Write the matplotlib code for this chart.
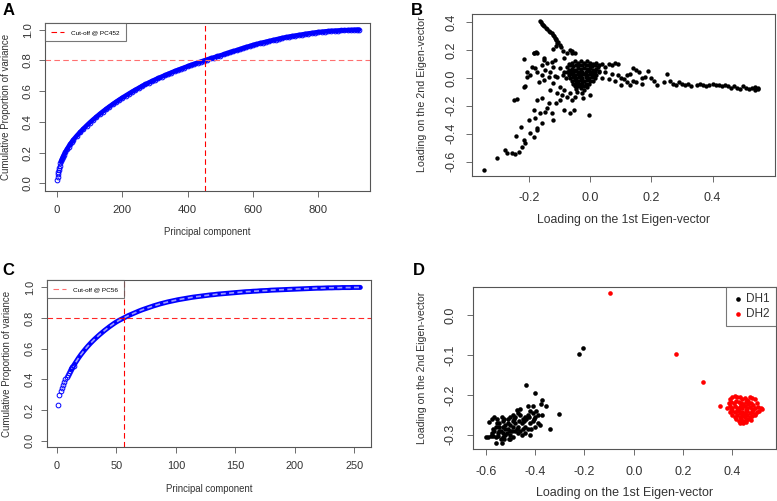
import numpy as np
import matplotlib
matplotlib.use("Agg")
import matplotlib.pyplot as plt
from matplotlib.lines import Line2D

plt.rcParams["font.family"] = ["Liberation Sans", "DejaVu Sans"]

TEXT = "#333333"
FRAME = "#555555"

# panel A: cumulative proportion of variance (925 PCs)
pc_a = [1, 2, 3, 4, 5, 6, 8, 10, 12, 15, 18, 21, 25, 30, 35, 40, 45, 50,
        60, 70, 80, 90, 100, 110, 120, 130, 140, 150, 160, 170, 180, 190, 200,
        210, 220, 230, 240, 250, 260, 270, 280, 290, 300, 310, 320, 330, 340,
        350, 360, 370, 380, 390, 400, 410, 420, 430, 440, 450, 460, 470, 480,
        490, 500, 510, 520, 530, 540, 550, 560, 570, 580, 590, 600, 610, 620,
        630, 640, 650, 660, 670, 680, 690, 700, 710, 720, 730, 740, 750, 760,
        770, 780, 790, 800, 810, 820, 830, 840, 850, 860, 870, 880, 890, 900,
        910, 920, 925]
cum_a = [0.020, 0.045, 0.062, 0.076, 0.088, 0.098, 0.115, 0.130, 0.143, 0.160,
         0.175, 0.188, 0.204, 0.222, 0.240, 0.256, 0.271, 0.285,
         0.310, 0.333, 0.355, 0.376, 0.396, 0.415, 0.433, 0.451, 0.468, 0.484,
         0.500, 0.515, 0.530, 0.544, 0.558, 0.571, 0.584, 0.597, 0.609, 0.621,
         0.633, 0.644, 0.655, 0.665, 0.675, 0.685, 0.694, 0.703, 0.712, 0.721,
         0.730, 0.738, 0.746, 0.754, 0.762, 0.770, 0.777, 0.785, 0.792, 0.799,
         0.806, 0.813, 0.819, 0.826, 0.832, 0.839, 0.846, 0.853, 0.860, 0.866,
         0.873, 0.880, 0.887, 0.893, 0.900, 0.905, 0.911, 0.916, 0.921, 0.926,
         0.931, 0.936, 0.941, 0.946, 0.950, 0.954, 0.958, 0.961, 0.965, 0.968,
         0.972, 0.975, 0.978, 0.981, 0.984, 0.986, 0.988, 0.990, 0.992, 0.993,
         0.994, 0.995, 0.996, 0.997, 0.998, 0.999, 1.000, 1.000]
cutoff_a = 452

# panel C: cumulative proportion of variance (255 PCs)
pc_c = list(range(1, 21)) + list(range(22, 61, 2)) + list(range(63, 256, 3))
cum_c = [0.230, 0.300, 0.325, 0.346, 0.366, 0.384, 0.400, 0.415, 0.428, 0.440,
         0.453, 0.466, 0.478, 0.490, 0.502, 0.514, 0.526, 0.538, 0.549, 0.560,
         0.580, 0.599, 0.617, 0.634, 0.650, 0.665, 0.679, 0.693, 0.706, 0.719,
         0.731, 0.743, 0.754, 0.765, 0.775, 0.784, 0.792, 0.800, 0.808, 0.816,
         0.826, 0.836, 0.846, 0.855, 0.863, 0.871, 0.879, 0.886, 0.893, 0.899,
         0.905, 0.910, 0.915, 0.920, 0.924, 0.928, 0.932, 0.936, 0.939, 0.942,
         0.945, 0.948, 0.951, 0.953, 0.956, 0.958, 0.960, 0.962, 0.964, 0.966,
         0.968, 0.970, 0.972, 0.973, 0.975, 0.976, 0.978, 0.979, 0.980, 0.982,
         0.983, 0.984, 0.985, 0.986, 0.987, 0.988, 0.989, 0.990, 0.991, 0.992,
         0.993, 0.994, 0.995, 0.995, 0.996, 0.997, 0.997, 0.998, 0.998, 0.999,
         0.999, 0.999, 1.000, 1.000, 1.000]
cutoff_c = 56

# panel B: loadings on eigenvectors 1 and 2
b_x = [-0.165, -0.160, -0.158, -0.155, -0.150, -0.145, -0.140, -0.135, -0.130,
       -0.125, -0.120, -0.118, -0.115, -0.112, -0.110, -0.105, -0.108, -0.100,
       -0.110, -0.095, -0.120, -0.090,
       -0.185, -0.175, -0.060, -0.050, -0.217,
       -0.348, -0.304, -0.277, -0.272, -0.255, -0.245, -0.234, -0.242, -0.223,
       -0.217, -0.212, -0.226, -0.201, -0.196, -0.185, -0.174, -0.179, -0.174,
       -0.158, -0.185, -0.163, -0.147, -0.141, -0.125, -0.120, -0.136, -0.111,
       -0.098, -0.087, -0.067, -0.054, -0.005, -0.174, -0.158, -0.250, -0.239,
       -0.217, -0.212, -0.207, -0.207, -0.196, -0.190, -0.180, -0.174, -0.158,
       -0.152, -0.141, -0.136, -0.130, -0.120, -0.109, -0.109, -0.098, -0.092,
       -0.087, -0.076, -0.065, -0.060, -0.049, -0.043, -0.027, -0.022, 0.000,
       -0.168, -0.152, -0.130, -0.114, -0.087, -0.076, -0.065, -0.060, -0.185,
       -0.177, -0.152, -0.125, -0.120, -0.098, -0.147, -0.158, -0.114,
       -0.070, -0.060, -0.050, -0.040, -0.030, -0.020, -0.010, 0.000, 0.010, 0.020,
       -0.075, -0.065, -0.055, -0.045, -0.035, -0.025, -0.015, -0.005, 0.005,
       0.015, 0.025,
       -0.070, -0.060, -0.050, -0.040, -0.030, -0.020, -0.010, 0.000, 0.010, 0.020,
       -0.085, -0.075, -0.065, -0.055, -0.045, -0.035, -0.025, -0.015, -0.005,
       0.005, 0.015, 0.030,
       -0.090, -0.070, -0.060, -0.050, -0.040, -0.030, -0.020, -0.010, 0.000,
       0.010, 0.020,
       -0.080, -0.065, -0.055, -0.045, -0.035, -0.025, -0.015, -0.005, 0.005, 0.015,
       -0.060, -0.050, -0.040, -0.030, -0.020, -0.010, 0.000, 0.010,
       -0.055, -0.045, -0.035, -0.025, -0.015, -0.005,
       -0.050, -0.040, -0.030, -0.020, -0.010, -0.045, -0.030, -0.020,
       0.030, 0.040, 0.050, 0.060, 0.070, 0.080, 0.090, 0.030, 0.050, 0.070,
       0.090, 0.040, 0.060, 0.080, 0.100, 0.110, 0.120, 0.130, 0.140, 0.150,
       0.120, 0.140, 0.160, 0.170, 0.180, 0.190, 0.200, 0.210, 0.220, 0.170,
       0.150, 0.130, 0.100, 0.250, 0.240, 0.260, 0.270, 0.280, 0.290, 0.300,
       0.310, 0.320, 0.330, 0.350, 0.360, 0.370, 0.380, 0.390, 0.400, 0.410,
       0.420, 0.430, 0.440, 0.450, 0.460, 0.470, 0.480, 0.490, 0.500, 0.510,
       0.520, 0.530, 0.540, 0.550, 0.550, 0.540]
b_y = [0.410, 0.400, 0.390, 0.380, 0.370, 0.360, 0.350, 0.340, 0.330,
       0.320, 0.310, 0.300, 0.290, 0.280, 0.270, 0.260, 0.250, 0.240,
       0.230, 0.220, 0.210, 0.190,
       0.180, 0.180, 0.190, 0.180, 0.134,
       -0.660, -0.577, -0.517, -0.540, -0.536, -0.545, -0.529, -0.416, -0.493,
       -0.445, -0.469, -0.354, -0.301, -0.397, -0.421, -0.373, -0.290, -0.360,
       -0.325, -0.230, -0.254, -0.242, -0.218, -0.254, -0.300, -0.182, -0.182,
       -0.158, -0.230, -0.254, -0.230, -0.266, -0.158, -0.146, -0.158, -0.153,
       -0.067, -0.057, 0.010, 0.045, 0.022, 0.080, 0.070, 0.045, 0.093,
       0.130, 0.105, 0.010, -0.086, -0.038, 0.010, -0.110, -0.062, -0.122,
       -0.086, -0.134, -0.110, -0.158, -0.134, -0.098, -0.110, -0.146, -0.122,
       -0.026, -0.014, 0.045, 0.130, 0.140, 0.177, 0.200, 0.177, 0.177,
       0.184, 0.140, 0.117, 0.080, 0.070, 0.055, 0.020, 0.014,
       0.100, 0.110, 0.120, 0.110, 0.120, 0.110, 0.120, 0.110, 0.100, 0.110,
       0.080, 0.090, 0.085, 0.090, 0.095, 0.090, 0.095, 0.090, 0.085,
       0.090, 0.080,
       0.060, 0.065, 0.060, 0.070, 0.065, 0.070, 0.065, 0.070, 0.060, 0.065,
       0.040, 0.040, 0.045, 0.040, 0.050, 0.040, 0.045, 0.040, 0.050,
       0.040, 0.045, 0.040,
       0.020, 0.020, 0.025, 0.020, 0.025, 0.020, 0.025, 0.020, 0.025,
       0.020, 0.020,
       0.000, 0.000, 0.005, 0.000, 0.005, 0.000, 0.005, 0.000, 0.005, 0.000,
       -0.020, -0.015, -0.020, -0.015, -0.020, -0.015, -0.020, -0.020,
       -0.040, -0.035, -0.040, -0.035, -0.040, -0.040,
       -0.060, -0.055, -0.060, -0.055, -0.065, -0.080, -0.075, -0.085,
       0.090, 0.100, 0.080, 0.100, 0.090, 0.110, 0.100, 0.050, 0.040, 0.030,
       0.020, 0.000, -0.010, -0.020, 0.000, -0.010, 0.020, 0.030, 0.070, 0.060,
       -0.030, -0.020, 0.040, 0.000, 0.010, 0.050, 0.000, -0.020, -0.050, -0.040,
       -0.030, -0.050, -0.050, 0.030, -0.030, -0.020, -0.040, -0.050, -0.030, -0.040,
       -0.050, -0.040, -0.060, -0.050, -0.040, -0.050, -0.060, -0.050, -0.040, -0.050,
       -0.050, -0.060, -0.050, -0.060, -0.070, -0.060, -0.070, -0.080, -0.060, -0.070,
       -0.080, -0.070, -0.090, -0.080, -0.070, -0.065]

# panel D: loadings coloured by group
dh1_x = [-0.220, -0.205, -0.435, -0.400, -0.370, -0.375, -0.355, -0.305, -0.340,
         -0.600, -0.590, -0.580, -0.570, -0.560, -0.550, -0.560, -0.535,
         -0.585, -0.575, -0.565, -0.555, -0.545, -0.540, -0.530, -0.520, -0.500,
         -0.490, -0.510, -0.520, -0.530, -0.535, -0.525, -0.510, -0.500, -0.490,
         -0.480, -0.470, -0.460, -0.450, -0.440, -0.430, -0.420, -0.410, -0.400,
         -0.390, -0.380, -0.370, -0.390, -0.400, -0.410, -0.420, -0.430, -0.440,
         -0.450, -0.460, -0.470, -0.475, -0.480, -0.490, -0.500, -0.510, -0.520,
         -0.530, -0.545, -0.550, -0.565, -0.570, -0.575, -0.540, -0.525, -0.505,
         -0.480, -0.470, -0.455, -0.445, -0.435, -0.425, -0.415, -0.405, -0.395,
         -0.410, -0.430, -0.460, -0.490, -0.500, -0.515, -0.530, -0.560, -0.485,
         -0.465, -0.475, -0.495, -0.455, -0.440, -0.420, -0.500, -0.545, -0.555]
dh1_y = [-0.098, -0.083, -0.175, -0.195, -0.212, -0.223, -0.229, -0.248, -0.285,
         -0.305, -0.305, -0.303, -0.304, -0.306, -0.304, -0.321, -0.321,
         -0.268, -0.262, -0.255, -0.270, -0.280, -0.290, -0.295, -0.300, -0.300,
         -0.305, -0.285, -0.275, -0.265, -0.255, -0.260, -0.262, -0.255, -0.265,
         -0.270, -0.280, -0.290, -0.285, -0.280, -0.285, -0.270, -0.265, -0.280,
         -0.270, -0.275, -0.250, -0.250, -0.255, -0.245, -0.240, -0.250, -0.255,
         -0.260, -0.250, -0.245, -0.238, -0.255, -0.280, -0.275, -0.270, -0.285,
         -0.280, -0.290, -0.295, -0.290, -0.285, -0.295, -0.310, -0.310, -0.310,
         -0.290, -0.295, -0.270, -0.265, -0.260, -0.255, -0.285, -0.260, -0.240,
         -0.228, -0.228, -0.235, -0.250, -0.290, -0.295, -0.305, -0.280, -0.260,
         -0.265, -0.285, -0.290, -0.300, -0.295, -0.300, -0.310, -0.270, -0.260]
dh2_x = [-0.097, 0.170, 0.280, 0.350,
         0.390, 0.400, 0.410, 0.420, 0.430, 0.440, 0.450, 0.460, 0.470, 0.480, 0.490,
         0.385, 0.395, 0.405, 0.415, 0.425, 0.435, 0.445, 0.455, 0.465, 0.475,
         0.485, 0.500,
         0.380, 0.390, 0.400, 0.410, 0.420, 0.430, 0.440, 0.450, 0.460, 0.470,
         0.480, 0.490, 0.505, 0.515, 0.520,
         0.390, 0.400, 0.410, 0.420, 0.430, 0.440, 0.450, 0.460, 0.470, 0.480,
         0.490, 0.500, 0.510,
         0.400, 0.410, 0.420, 0.430, 0.440, 0.450, 0.460, 0.470, 0.480, 0.490,
         0.415, 0.425, 0.435, 0.445, 0.455, 0.465, 0.475,
         0.430, 0.445, 0.455,
         0.395, 0.425, 0.455, 0.485, 0.435, 0.465, 0.445]
dh2_y = [0.056, -0.098, -0.168, -0.227,
         -0.210, -0.205, -0.203, -0.206, -0.205, -0.210, -0.207, -0.212, -0.205,
         -0.208, -0.210,
         -0.220, -0.218, -0.220, -0.215, -0.218, -0.220, -0.222, -0.218, -0.222,
         -0.220, -0.225, -0.220,
         -0.232, -0.228, -0.232, -0.229, -0.233, -0.230, -0.232, -0.229, -0.233,
         -0.230, -0.235, -0.232, -0.230, -0.234, -0.236,
         -0.242, -0.240, -0.244, -0.241, -0.245, -0.242, -0.245, -0.241, -0.245,
         -0.243, -0.247, -0.244, -0.240,
         -0.252, -0.255, -0.252, -0.256, -0.253, -0.256, -0.252, -0.256, -0.254,
         -0.250,
         -0.262, -0.265, -0.262, -0.266, -0.263, -0.260, -0.264,
         -0.270, -0.272, -0.269,
         -0.235, -0.238, -0.237, -0.238, -0.225, -0.215, -0.248]

# tick labels
xt_a = ["0", "200", "400", "600", "800"]
xt_c = ["0", "50", "100", "150", "200", "250"]
xt_b = ["-0.2", "0.0", "0.2", "0.4"]
xt_d = ["-0.6", "-0.4", "-0.2", "0.0", "0.2", "0.4"]
yt_ac = ["0.0", "0.2", "0.4", "0.6", "0.8", "1.0"]
yt_b = ["-0.6", "-0.4", "-0.2", "0.0", "0.2", "0.4"]
yt_d = ["-0.3", "-0.2", "-0.1", "0.0"]

DASH = (0, (5, 3))


def r_style(ax, xlabels, ylabels, size, xpad, ypad):
    for s in ax.spines.values():
        s.set_color(FRAME)
        s.set_linewidth(0.8)
    ax.set_xticks([float(t) for t in xlabels])
    ax.set_xticklabels(xlabels)
    ax.set_yticks([float(t) for t in ylabels])
    ax.set_yticklabels(ylabels)
    ax.tick_params(direction="out", length=4.3, width=0.6, colors=FRAME,
                   labelcolor=TEXT, labelsize=size)
    ax.tick_params(axis="x", pad=xpad)
    ax.tick_params(axis="y", pad=ypad)
    for lab in ax.get_yticklabels():
        lab.set_rotation(90)
        lab.set_va("center")


def place_labels(ax, xl, yl, xpos, ypos, xsize, ysize):
    ax.set_xlabel(xl, fontsize=xsize, color=TEXT)
    ax.set_ylabel(yl, fontsize=ysize, color=TEXT)
    ax.xaxis.set_label_coords(*xpos)
    ax.yaxis.set_label_coords(*ypos)
    ax.xaxis.label.set_va("center")
    ax.yaxis.label.set_va("center")


def cutoff_legend(ax, label, color):
    leg = ax.legend([Line2D([], [], color=color, ls=DASH, lw=0.8)], [label],
                    loc="upper left", fontsize=4.6, borderaxespad=0,
                    fancybox=False, handlelength=2.0, borderpad=1.0,
                    handletextpad=1.0)
    leg.get_frame().set_edgecolor(FRAME)
    leg.get_frame().set_linewidth(0.8)


fig = plt.figure(figsize=(7.77, 5.01), dpi=100)

# A
ax = fig.add_axes([0.058, 0.619, 0.418, 0.335])
band = [i for i, p in enumerate(pc_a) if p >= 12]
ax.plot([pc_a[i] for i in band], [cum_a[i] for i in band], color="blue",
        lw=3.4, solid_capstyle="round")
ax.plot(pc_a, cum_a, "o", mfc="none", mec="blue", ms=3.4, mew=0.7)
ax.axvline(cutoff_a, color="red", ls=DASH, lw=0.8)
ax.axhline(0.8, color="#ff7070", ls=DASH, lw=0.8)
ax.set_xlim(-37, 958)
ax.set_ylim(-0.048, 1.043)
r_style(ax, xt_a, yt_ac, 8.2, 6, 4.5)
place_labels(ax, "Principal component", "Cumulative Proportion of variance",
             (0.5, -0.244), (-0.12, 0.5), 6.9, 7.0)
cutoff_legend(ax, f"Cut-off @ PC{cutoff_a}", "red")
fig.text(0.003, 0.994, "A", fontsize=12, fontweight="bold", va="top")

# B
ax = fig.add_axes([0.6075, 0.649, 0.3895, 0.323])
ax.scatter(b_x, b_y, s=10, color="black", linewidths=0)
ax.set_xlim(-0.386, 0.603)
ax.set_ylim(-0.703, 0.459)
r_style(ax, xt_b, yt_b, 9, 7.5, 6.5)
place_labels(ax, "Loading on the 1st Eigen-vector", "Loading on the 2nd Eigen-vector",
             (0.5, -0.272), (-0.165, 0.506), 8.8, 7.7)
fig.text(0.529, 0.994, "B", fontsize=12, fontweight="bold", va="top")

# C
ax = fig.add_axes([0.0605, 0.108, 0.417, 0.333])
band = [i for i, p in enumerate(pc_c) if p >= 12]
ax.plot([pc_c[i] for i in band], [cum_c[i] for i in band], color="blue",
        lw=3.6, solid_capstyle="round")
ax.plot([pc_c[i] for i in band], [cum_c[i] for i in band], color="#9a9aff",
        lw=1.2, ls=(0, (3, 2)))
ax.plot(pc_c[:14], cum_c[:14], "o", mfc="none", mec="blue", ms=3.4, mew=0.7)
ax.axvline(cutoff_c, color="red", ls=DASH, lw=0.8)
ax.axhline(0.8, color="red", ls=DASH, lw=0.8, alpha=0.85)
ax.set_xlim(-8.4, 264)
ax.set_ylim(-0.041, 1.048)
r_style(ax, xt_c, yt_ac, 7.9, 6, 4.5)
place_labels(ax, "Principal component", "Cumulative Proportion of variance",
             (0.5, -0.251), (-0.123, 0.497), 6.9, 7.0)
cutoff_legend(ax, f"Cut-off @ PC{cutoff_c}", "#ff7070")
fig.text(0.003, 0.475, "C", fontsize=12, fontweight="bold", va="top")

# D
ax = fig.add_axes([0.609, 0.104, 0.3897, 0.323])
ax.scatter(dh1_x, dh1_y, s=11, color="black", linewidths=0, label="DH1")
ax.scatter(dh2_x, dh2_y, s=11, color="red", linewidths=0, label="DH2")
ax.set_xlim(-0.651, 0.577)
ax.set_ylim(-0.336, 0.071)
r_style(ax, xt_d, yt_d, 9, 8, 7.5)
place_labels(ax, "Loading on the 1st Eigen-vector", "Loading on the 2nd Eigen-vector",
             (0.5, -0.272), (-0.168, 0.5), 9, 7.6)
leg = ax.legend(loc="upper right", fontsize=8.5, borderaxespad=0, fancybox=False,
                handletextpad=0.2, handlelength=1.0, scatterpoints=1,
                borderpad=0.5, labelspacing=0.25)
leg.get_frame().set_edgecolor(FRAME)
leg.get_frame().set_linewidth(0.8)
for t in leg.get_texts():
    t.set_color(TEXT)
fig.text(0.531, 0.475, "D", fontsize=12, fontweight="bold", va="top")

fig.savefig("out.png", dpi=100)
